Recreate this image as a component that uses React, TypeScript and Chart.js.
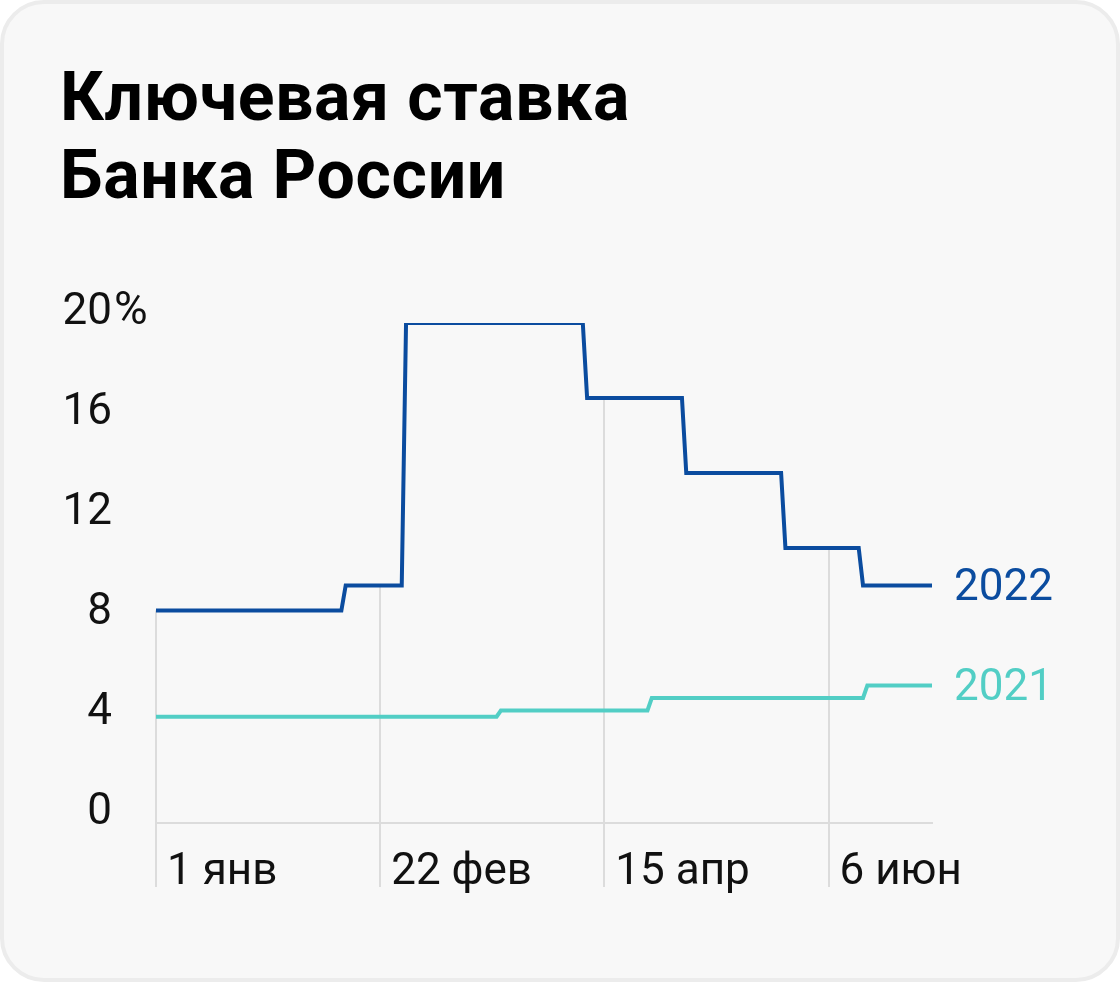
import { useEffect, useRef } from 'react';
import { Chart, registerables } from 'chart.js';

Chart.register(...registerables);

// day of year (0 = 1 Jan) and key rate, %
const days2022 = [0, 43, 44, 57, 58, 99, 100, 122, 123, 145, 146, 163, 164, 180];
const rates2022 = [8.5, 8.5, 9.5, 9.5, 20, 20, 17, 17, 14, 14, 11, 11, 9.5, 9.5];
const days2021 = [0, 79, 80, 114, 115, 164, 165, 180];
const rates2021 = [4.25, 4.25, 4.5, 4.5, 5, 5, 5.5, 5.5];

const xTickDays = [0, 52, 104, 156];
const xTickLabels = ['1 янв', '22 фев', '15 апр', '6 июн'];
const yTicks = [0, 4, 8, 12, 16, 20];

const BLUE = '#0b4c9f';
const TEAL = '#52cec5';
const CARD = '#f8f8f8';
const GRID = '#dcdcdc';
const FONT = 'Roboto';

// value of the 2022 series at a given day (read from its points)
function rate2022At(day: number) {
  for (let i = 0; i < days2022.length - 1; i++) {
    const a = days2022[i];
    const b = days2022[i + 1];
    if (day >= a && day <= b) {
      const t = b === a ? 0 : (day - a) / (b - a);
      return rates2022[i] + (rates2022[i + 1] - rates2022[i]) * t;
    }
  }
  return rates2022[rates2022.length - 1];
}

// vertical grid lines that start at the 2022 line and drop to the axis
const dropLinesPlugin = {
  id: 'dropLines',
  beforeDatasetsDraw(chart: any) {
    const { ctx, chartArea } = chart;
    const { x, y } = chart.scales;
    ctx.save();
    ctx.strokeStyle = GRID;
    ctx.lineWidth = 2;
    xTickDays.forEach((d) => {
      const px = Math.round(x.getPixelForValue(d));
      ctx.beginPath();
      ctx.moveTo(px, y.getPixelForValue(rate2022At(d)));
      ctx.lineTo(px, chartArea.bottom);
      ctx.stroke();
    });
    ctx.restore();
  },
};

// y labels: numbers right-aligned, "%" hanging after the top one
const yLabelsPlugin = {
  id: 'yLabels',
  afterDraw(chart: any) {
    const { ctx } = chart;
    const y = chart.scales.y;
    ctx.save();
    ctx.font = `44px ${FONT}`;
    ctx.fillStyle = '#111';
    ctx.textBaseline = 'alphabetic';
    y.ticks.forEach((t: any) => {
      const py = y.getPixelForValue(t.value) + 1;
      const rx = y.right - 44;
      ctx.textAlign = 'right';
      ctx.fillText(String(t.value), rx, py);
      if (t.value === y.max) {
        ctx.textAlign = 'left';
        ctx.font = `46px ${FONT}`;
        ctx.fillText('%', rx + 2, py);
        ctx.font = `44px ${FONT}`;
      }
    });
    ctx.restore();
  },
};

// series names at the end of each line
const endLabelsPlugin = {
  id: 'endLabels',
  afterDatasetsDraw(chart: any) {
    const { ctx } = chart;
    ctx.save();
    ctx.font = `44px ${FONT}`;
    ctx.textAlign = 'left';
    ctx.textBaseline = 'alphabetic';
    chart.data.datasets.forEach((ds: any, i: number) => {
      const pts = chart.getDatasetMeta(i).data;
      const last = pts[pts.length - 1];
      ctx.fillStyle = ds.borderColor;
      ctx.fillText(ds.label, last.x + 22, last.y + 14);
    });
    ctx.restore();
  },
};

export default function App() {
  const chartRef = useRef<HTMLCanvasElement>(null);
  const chartInstance = useRef<Chart | null>(null);

  useEffect(() => {
    if (!chartRef.current) return;
    const ctx = chartRef.current.getContext('2d');
    if (!ctx) return;

    if (chartInstance.current) {
      chartInstance.current.destroy();
    }

    chartInstance.current = new Chart(ctx, {
      type: 'line',
      data: {
        datasets: [
          {
            label: '2022',
            data: days2022.map((d, i) => ({ x: d, y: rates2022[i] })),
            borderColor: BLUE,
            fill: false,
          },
          {
            label: '2021',
            data: days2021.map((d, i) => ({ x: d, y: rates2021[i] })),
            borderColor: TEAL,
            fill: false,
          },
        ],
      },
      options: {
        animation: false,
        responsive: true,
        maintainAspectRatio: false,
        layout: { padding: { left: 0, top: 323, right: 188, bottom: 81 } },
        plugins: {
          legend: { display: false },
          tooltip: { enabled: false },
        },
        elements: {
          point: { radius: 0 },
          line: { tension: 0, borderWidth: 4, borderJoinStyle: 'miter', borderCapStyle: 'butt' },
        },
        scales: {
          x: {
            type: 'linear',
            min: 0,
            max: 180,
            afterBuildTicks: (s: any) => {
              s.ticks = xTickDays.map((v) => ({ value: v }));
            },
            afterFit: (s: any) => {
              s.height = 80;
            },
            grid: { color: GRID, lineWidth: 2, tickLength: 64, drawTicks: true, drawOnChartArea: false },
            border: { display: true, color: GRID, width: 2 },
            ticks: {
              autoSkip: false,
              maxRotation: 0,
              align: 'start',
              labelOffset: 11,
              padding: -40,
              color: '#111',
              font: { size: 44, family: FONT },
              callback: (v: any) => xTickLabels[xTickDays.indexOf(Number(v))] ?? '',
            },
          },
          y: {
            min: 0,
            max: 20,
            afterBuildTicks: (s: any) => {
              s.ticks = yTicks.map((v) => ({ value: v }));
            },
            afterFit: (s: any) => {
              s.width = 156;
            },
            grid: { display: false },
            border: { display: false },
            ticks: { display: false },
          },
        },
      },
      plugins: [dropLinesPlugin, yLabelsPlugin, endLabelsPlugin],
    });

    return () => {
      if (chartInstance.current) {
        chartInstance.current.destroy();
        chartInstance.current = null;
      }
    };
  }, []);

  return (
    <div style={{ position: 'absolute', left: 0, top: 0, width: 1120, height: 984, fontFamily: FONT }}>
      <div
        style={{
          position: 'absolute',
          left: 0,
          top: 0,
          width: 1120,
          height: 982,
          boxSizing: 'border-box',
          border: '4px solid #ececec',
          borderRadius: 44,
          background: CARD,
        }}
      />
      <div
        style={{
          position: 'absolute',
          left: 60,
          top: 58,
          fontSize: 68,
          fontWeight: 700,
          lineHeight: '78px',
          letterSpacing: 0.6,
          color: '#000',
          whiteSpace: 'nowrap',
        }}
      >
        Ключевая ставка
        <br />
        Банка России
      </div>
      <div style={{ position: 'absolute', left: 0, top: 0, width: 1120, height: 984 }}>
        <canvas ref={chartRef} />
      </div>
    </div>
  );
}
